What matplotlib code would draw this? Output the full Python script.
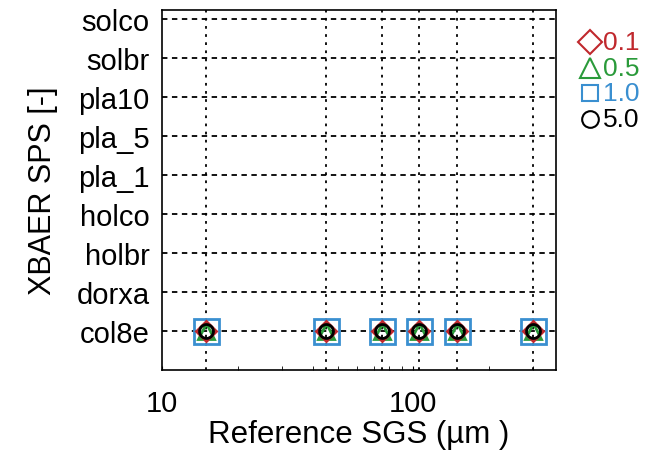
import matplotlib
matplotlib.use("Agg")
import matplotlib.pyplot as plt
from matplotlib.lines import Line2D

plt.rcParams['font.family'] = ['Liberation Sans', 'DejaVu Sans']

categories = ["col8e", "dorxa", "holbr", "holco", "pla_1", "pla_5", "pla10", "solbr", "solco"]
ref_sgs = [15, 45, 75, 105, 150, 300]
# every series sits on the col8e row
series_labels = ["0.1", "0.5", "1.0", "5.0"]
series_cat = ["col8e", "col8e", "col8e", "col8e"]
series_style = [
    ("D", "#c0282d", 10),
    ("^", "#2a9a3a", 12),
    ("s", "#3a8fd0", 18),
    ("o", "black", 10),
]

fig = plt.figure(figsize=(6.66, 4.56), dpi=100)
ax = fig.add_axes([0.2432, 0.1864, 0.5916, 0.7895])

ypos = {c: i + 1 for i, c in enumerate(categories)}

# grid lines at the data x positions and every category
for x in ref_sgs:
    ax.axvline(x, color="black", lw=1.3, ls=(0, (1.5, 3)), zorder=1)
for c in categories:
    ax.axhline(ypos[c], color="black", lw=1.3, ls=(0, (3, 2.5)), zorder=1)

# draw big markers first so small ones stay visible
order = [2, 1, 0, 3]
for i in order:
    m, col, ms = series_style[i]
    y = [ypos[series_cat[i]]] * len(ref_sgs)
    ax.plot(ref_sgs, y, ls="none", marker=m, ms=ms, mfc="none",
            mec=col, mew=2.0, zorder=3)

ax.set_xscale("log")
ax.set_xlim(10, 370)
ax.set_ylim(0, 9.23)
ax.set_xticks([10, 100])
ax.set_xticklabels(["10", "100"])
ax.set_yticks([ypos[c] for c in categories])
ax.set_yticklabels(categories)
ax.tick_params(axis="both", which="both", direction="in", labelsize=21, length=3)
ax.tick_params(axis="x", which="major", pad=14)
ax.tick_params(axis="y", length=0, pad=9)

for s in ax.spines.values():
    s.set_linewidth(1.2)

ax.set_xlabel("Reference SGS (\u00b5m )", fontsize=22.5, labelpad=1)
ax.set_ylabel("XBAER SPS [-]", fontsize=22, labelpad=13)

# legend drawn as marker + coloured text on the right
W, H = 666, 456
for k, (lab, st) in enumerate(zip(series_labels, series_style)):
    yc = 43 + k * 25.7
    fig.add_artist(Line2D([590 / W], [1 - yc / H], transform=fig.transFigure,
                          marker=st[0], ms=12 if st[0] != "^" else 14,
                          mfc="none", mec=st[1], mew=1.5, ls="none"))
    fig.text(603 / W, 1 - yc / H, lab, color=st[1], fontsize=19,
             ha="left", va="center")

fig.savefig("out.png", dpi=100)
